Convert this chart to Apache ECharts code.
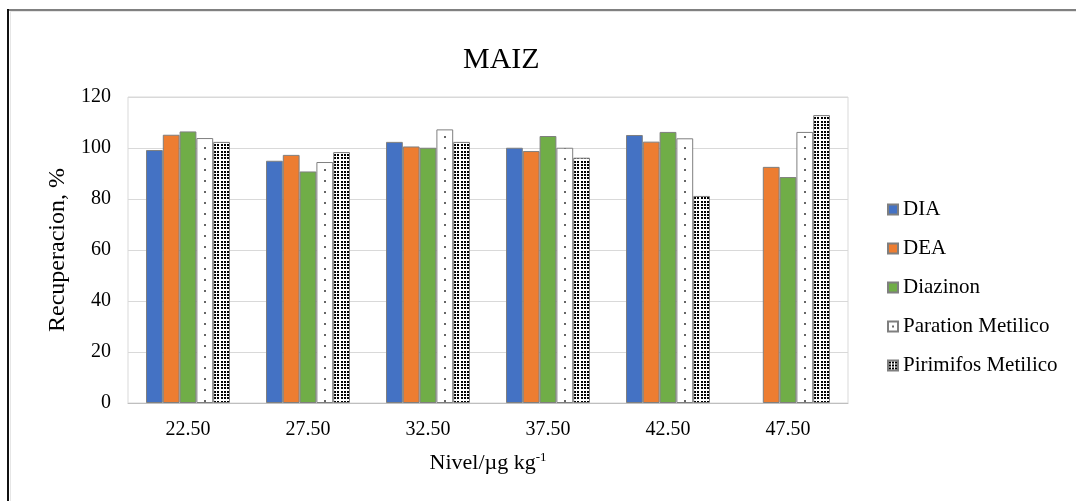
<!DOCTYPE html>
<html>
<head>
<meta charset="utf-8">
<script src="https://cdn.jsdelivr.net/npm/echarts@6/dist/echarts.min.js"></script>
<style>
  html, body { margin: 0; padding: 0; background: #fff; }
  #chart { width: 1076px; height: 501px; }
</style>
</head>
<body>
<div id="chart"></div>
<script>
// Spike levels (µg/kg) on the x axis
const categories = ['22.50', '27.50', '32.50', '37.50', '42.50', '47.50'];

// Recovery (%) per analyte at each level
const dia       = [99.2, 95.0, 102.4, 100.1, 105.1, null];
const dea       = [105.2, 97.3, 100.6, 98.8, 102.5, 92.6];
const diazinon  = [106.5, 90.8, 100.1, 104.7, 106.3, 88.6];
const paration  = [103.9, 94.5, 107.3, 100.1, 103.8, 106.3];
const pirimifos = [102.4, 98.4, 102.4, 96.2, 81.2, 112.9];

const seriesNames = ['DIA', 'DEA', 'Diazinon', 'Paration Metilico', 'Pirimifos Metilico'];

const FONT = '"Liberation Serif", "Times New Roman", serif';

// Sparse dot fill (white with occasional grey dots)
function sparseDots() {
  const c = document.createElement('canvas');
  c.width = 20; c.height = 11;
  const g = c.getContext('2d');
  g.fillStyle = '#fff'; g.fillRect(0, 0, 20, 11);
  g.fillStyle = '#666';
  g.fillRect(4, 4, 2, 2);
  return c;
}
// Dense black dot fill
function denseDots() {
  const c = document.createElement('canvas');
  c.width = 10; c.height = 10;
  const g = c.getContext('2d');
  g.fillStyle = '#fff'; g.fillRect(0, 0, 10, 10);
  g.fillStyle = '#000';
  const pos = [1, 4, 7];
  pos.forEach(x => pos.forEach(y => g.fillRect(x, y, 2, 2)));
  return c;
}

const fills = [
  '#4472C4',
  '#ED7D31',
  '#70AD47',
  { image: sparseDots(), repeat: 'repeat' },
  { image: denseDots(), repeat: 'repeat' }
];
const values = [dia, dea, diazinon, paration, pirimifos];

const chart = echarts.init(document.getElementById('chart'), null, { renderer: 'canvas' });

chart.setOption({
  animation: false,
  backgroundColor: '#fff',
  title: {
    text: 'MAIZ',
    left: 458,
    top: 40,
    textStyle: { fontFamily: FONT, fontSize: 30, fontWeight: 'normal', color: '#000' }
  },
  legend: {
    orient: 'vertical',
    left: 887,
    top: 199,
    padding: 0,
    itemWidth: 10,
    itemHeight: 10,
    itemGap: 18,
    icon: 'rect',
    data: seriesNames,
    textStyle: { fontFamily: FONT, fontSize: 21, color: '#000', lineHeight: 21 }
  },
  grid: {
    left: 128, right: 228, top: 97, bottom: 98,
    show: true, borderColor: '#d9d9d9', borderWidth: 1
  },
  xAxis: {
    type: 'category',
    data: categories,
    axisTick: { show: false },
    axisLine: { lineStyle: { color: '#bfbfbf' } },
    axisLabel: { fontFamily: FONT, fontSize: 20, color: '#000', margin: 17 },
    name: '{a|Nivel/µg kg}{s|-1}',
    nameLocation: 'middle',
    nameGap: 48,
    nameTextStyle: {
      rich: {
        a: { fontFamily: FONT, fontSize: 22, color: '#000', lineHeight: 24 },
        s: { fontFamily: FONT, fontSize: 13, color: '#000', verticalAlign: 'top', lineHeight: 24, padding: [0, 0, 8, 0] }
      }
    }
  },
  yAxis: {
    type: 'value',
    min: 0, max: 120, interval: 20,
    axisLine: { show: false },
    axisTick: { show: false },
    splitLine: { lineStyle: { color: '#d9d9d9' } },
    axisLabel: { fontFamily: FONT, fontSize: 20, color: '#000', margin: 17 },
    name: 'Recuperacion, %',
    nameLocation: 'middle',
    nameGap: 58,
    nameTextStyle: { fontFamily: FONT, fontSize: 24, color: '#000' }
  },
  series: seriesNames.map((name, i) => ({
    name,
    type: 'bar',
    data: values[i],
    barGap: '0%',
    barCategoryGap: '30%',
    itemStyle: { color: fills[i], borderColor: '#7f7f7f', borderWidth: 1 }
  })),
  graphic: [
    // page frame
    { type: 'rect', shape: { x: 8, y: 9, width: 1068, height: 2 }, style: { fill: '#808080' }, silent: true },
    { type: 'rect', shape: { x: 11, y: 11, width: 1065, height: 1 }, style: { fill: '#e6e6e6' }, silent: true },
    { type: 'rect', shape: { x: 7, y: 9, width: 2, height: 492 }, style: { fill: '#111' }, silent: true },
    { type: 'rect', shape: { x: 10, y: 11, width: 1, height: 490 }, style: { fill: '#e6e6e6' }, silent: true }
  ]
});
</script>
</body>
</html>
